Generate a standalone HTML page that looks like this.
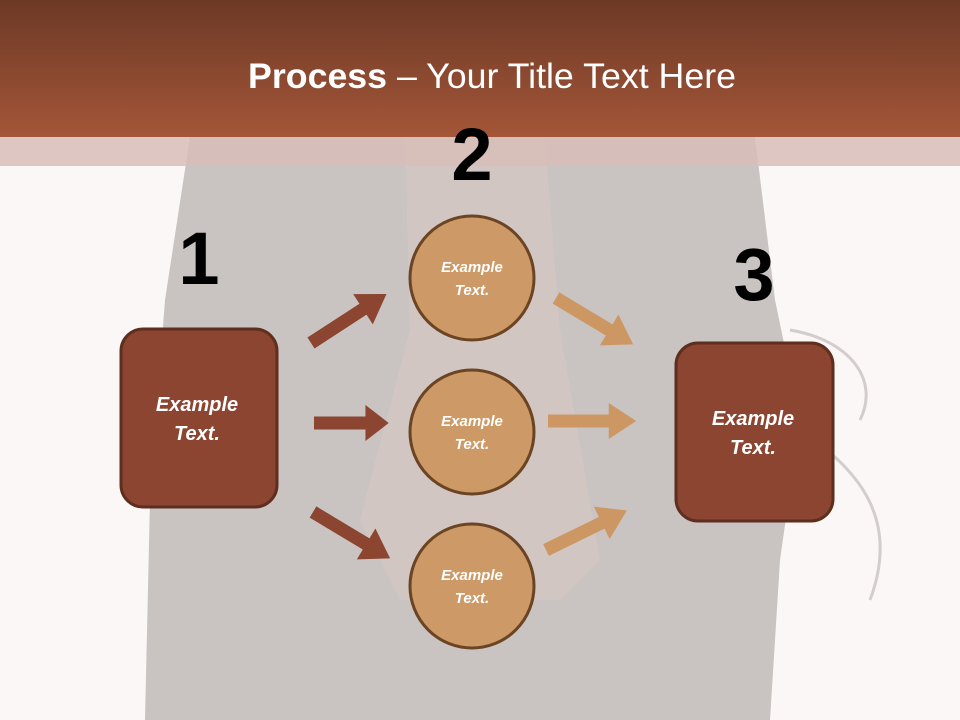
<!DOCTYPE html>
<html><head><meta charset="utf-8"><style>
body{margin:0;width:960px;height:720px;overflow:hidden;background:#fbf7f6}
svg{display:block}
text{font-family:"Liberation Sans",sans-serif}
</style></head><body>
<svg width="960" height="720" viewBox="0 0 960 720">
<defs>
<linearGradient id="hd" x1="0" y1="0" x2="0" y2="1">
<stop offset="0" stop-color="#6c3926"/><stop offset="1" stop-color="#a45638"/>
</linearGradient>
<g id="arr"><polygon points="0,-6.5 62,-6.5 62,-18 90,0 62,18 62,6.5 0,6.5"/></g>
</defs>
<rect width="960" height="720" fill="#fbf7f6"/>
<polygon points="190,137 755,137 775,300 800,420 780,560 770,720 145,720 150,500 165,300" fill="#c9c3c2"/>
<polygon points="405,137 545,137 560,330 600,560 560,600 400,600 360,520 410,330" fill="#d2c6c3"/>
<path d="M790,330 C850,340 880,380 860,420 M800,430 C860,470 900,520 870,600" stroke="#d3cdcc" stroke-width="3" fill="none"/>
<rect width="960" height="137" fill="url(#hd)"/>
<rect y="137" width="960" height="29" fill="#d8bdb9" opacity="0.85"/>
<text x="492" y="88" font-size="35" fill="#fff" text-anchor="middle" textLength="488" lengthAdjust="spacingAndGlyphs"><tspan font-weight="bold">Process</tspan> – Your Title Text Here</text>
<text x="472" y="180" font-size="74" font-weight="bold" text-anchor="middle" fill="#000">2</text>
<text x="199" y="284" font-size="74" font-weight="bold" text-anchor="middle" fill="#000">1</text>
<text x="754" y="300" font-size="74" font-weight="bold" text-anchor="middle" fill="#000">3</text>
<g fill="#8b4530">
<use href="#arr" transform="translate(311,343) rotate(-33)"/>
<use href="#arr" transform="translate(314,423) scale(0.83,1)"/>
<use href="#arr" transform="translate(313,512) rotate(31)"/>
</g>
<g fill="#cd9763">
<use href="#arr" transform="translate(556,298) rotate(31)"/>
<use href="#arr" transform="translate(548,421) scale(0.98,1)"/>
<use href="#arr" transform="translate(546,550) rotate(-26)"/>
</g>
<rect x="121" y="329" width="156" height="178" rx="22" fill="#8b4530" stroke="#5e2e1e" stroke-width="3"/>
<rect x="676" y="343" width="157" height="178" rx="22" fill="#8b4530" stroke="#5e2e1e" stroke-width="3"/>
<g fill="#cd9966" stroke="#6b4423" stroke-width="3">
<ellipse cx="472" cy="278" rx="62" ry="62"/>
<ellipse cx="472" cy="432" rx="62" ry="62"/>
<ellipse cx="472" cy="586" rx="62" ry="62"/>
</g>
<g fill="#fff" font-weight="bold" font-style="italic" text-anchor="middle">
<text x="197" y="411" font-size="20">Example</text><text x="197" y="440" font-size="20">Text.</text>
<text x="753" y="425" font-size="20">Example</text><text x="753" y="454" font-size="20">Text.</text>
<text x="472" y="272" font-size="15">Example</text><text x="472" y="295" font-size="15">Text.</text>
<text x="472" y="426" font-size="15">Example</text><text x="472" y="449" font-size="15">Text.</text>
<text x="472" y="580" font-size="15">Example</text><text x="472" y="603" font-size="15">Text.</text>
</g>
</svg>
</body></html>
